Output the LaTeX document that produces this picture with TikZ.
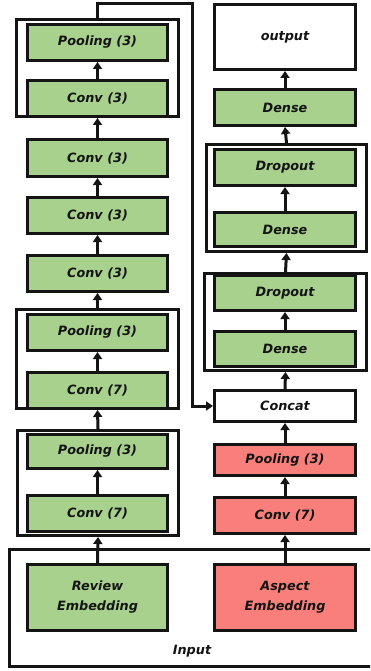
\documentclass[tikz,border=0pt]{standalone}
\usepackage{fontspec}
\setmainfont{DejaVu Sans}
\usetikzlibrary{arrows.meta}
\definecolor{gfill}{RGB}{169,209,142}
\definecolor{rfill}{RGB}{249,128,122}
\definecolor{lnc}{RGB}{20,20,20}
\begin{document}
\begin{tikzpicture}[x=1pt,y=-1pt,
  base/.style={draw=lnc,line width=2.9pt,rectangle,inner sep=0pt,align=center,
    font=\bfseries\itshape\fontsize{12.8}{20}\selectfont,text=lnc},
  lbox/.style={base,minimum width=140.1pt},
  rbox/.style={base,minimum width=141.1pt},
  grp/.style={draw=lnc,line width=2.9pt,rectangle,inner sep=0pt},
  gf/.style={fill=gfill},
  rf/.style={fill=rfill},
  wf/.style={fill=white},
  arr/.style={draw=lnc,line width=3pt,-{Triangle[length=7pt,width=9pt]}},
  lbl/.style={font=\bfseries\itshape\fontsize{12.8}{15}\selectfont,text=lnc,inner sep=0pt}]
\useasboundingbox (0,0) rectangle (370,671);
\clip (0,0) rectangle (370,671);
\fill[white] (0,0) rectangle (370,671);
% input frame
\node[grp,minimum width=369.1pt,minimum height=117.1pt] (input) at (194,608) {};
\node[lbl] (inlabel) at (192,651) {Input};
% groups (left)
\node[grp,minimum width=162.1pt,minimum height=97.1pt] (g1) at (97.5,68) {};
\node[grp,minimum width=162.1pt,minimum height=99.1pt] (g2) at (97.5,359) {};
\node[grp,minimum width=161.1pt,minimum height=105.1pt] (g3) at (98,483) {};
% groups (right)
\node[grp,minimum width=160.1pt,minimum height=107.1pt] (g4) at (286.5,198) {};
\node[grp,minimum width=162.1pt,minimum height=97.1pt] (g5) at (285.5,322) {};
% left column
\node[lbox,gf,minimum height=36.1pt] (pool1) at (97.5,42.5) {Pooling (3)};
\node[lbox,gf,minimum height=36.1pt] (conv1) at (97.5,98.5) {Conv (3)};
\node[lbox,gf,minimum height=37.1pt] (conv2) at (97.5,158) {Conv (3)};
\node[lbox,gf,minimum height=36.1pt] (conv3) at (97.5,215.5) {Conv (3)};
\node[lbox,gf,minimum height=36.1pt] (conv4) at (97.5,273.5) {Conv (3)};
\node[lbox,gf,minimum height=36.1pt] (pool2) at (97.5,332.5) {Pooling (3)};
\node[lbox,gf,minimum height=36.1pt] (conv5) at (97.5,390.5) {Conv (7)};
\node[lbox,gf,minimum height=34.1pt] (pool3) at (97.5,451.5) {Pooling (3)};
\node[lbox,gf,minimum height=36.1pt] (conv6) at (97.5,513.5) {Conv (7)};
\node[lbox,gf,minimum height=66.1pt] (review) at (97.5,597.5) {Review\\Embedding};
% right column
\node[rbox,wf,minimum height=65.1pt] (output) at (285,37) {output};
\node[rbox,gf,minimum height=36.1pt] (dense1) at (285,107.5) {Dense};
\node[rbox,gf,minimum height=36.1pt] (drop1) at (285,167.5) {Dropout};
\node[rbox,gf,minimum height=34.1pt] (dense2) at (285,229.5) {Dense};
\node[rbox,gf,minimum height=35.1pt] (drop2) at (285,293) {Dropout};
\node[rbox,gf,minimum height=35.1pt] (dense3) at (285,349) {Dense};
\node[rbox,wf,minimum height=31.1pt] (concat) at (285,406) {Concat};
\node[rbox,rf,minimum height=31.1pt] (poolr) at (285,460) {Pooling (3)};
\node[rbox,rf,minimum height=36.1pt] (convr) at (285,515.5) {Conv (7)};
\node[rbox,rf,minimum height=66.1pt] (aspect) at (285,597.5) {Aspect\\Embedding};
% left arrows
\draw[arr] (review.north) -- (g3.south);
\draw[arr] (conv6.north) -- (pool3.south);
\draw[arr] (g3.north) -- (g2.south);
\draw[arr] (conv5.north) -- (pool2.south);
\draw[arr] (g2.north) -- (conv4.south);
\draw[arr] (conv4.north) -- (conv3.south);
\draw[arr] (conv3.north) -- (conv2.south);
\draw[arr] (conv2.north) -- (g1.south);
\draw[arr] (conv1.north) -- (pool1.south);
% skip connector
\coordinate (corner) at (192,4);
\draw[arr] (g1.north) |- (corner) |- (concat.west);
% right arrows
\draw[arr] (aspect.north) -- (convr.south);
\draw[arr] (convr.north) -- (poolr.south);
\draw[arr] (poolr.north) -- (concat.south);
\draw[arr] (concat.north) -- (g5.south);
\draw[arr] (dense3.north) -- (drop2.south);
\draw[arr] (g5.north) -- (g4.south);
\draw[arr] (dense2.north) -- (drop1.south);
\draw[arr] (g4.north) -- (dense1.south);
\draw[arr] (dense1.north) -- (output.south);
\end{tikzpicture}
\end{document}
